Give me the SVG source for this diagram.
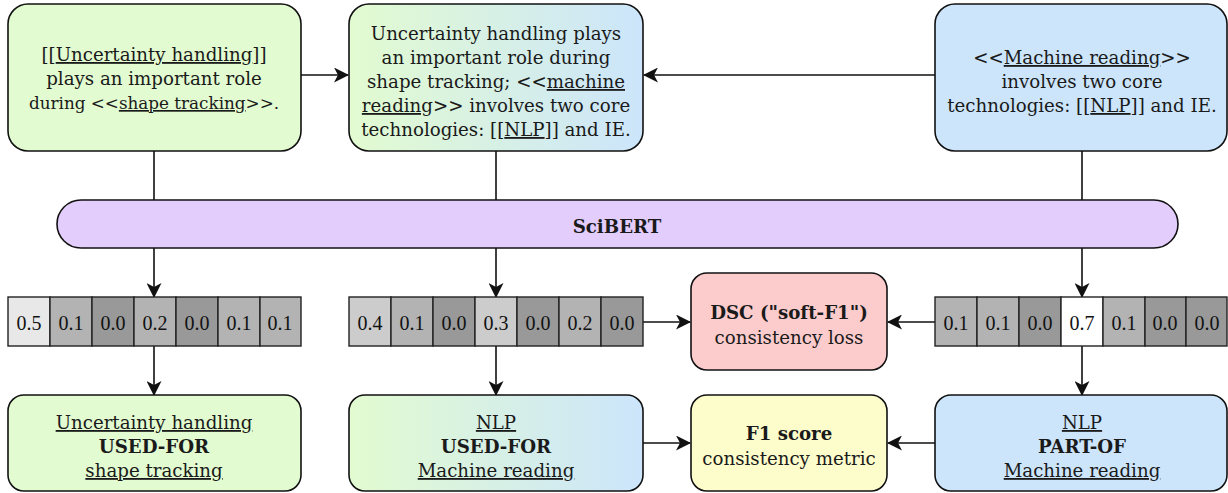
<svg xmlns="http://www.w3.org/2000/svg" width="1228" height="493" viewBox="0 0 1228 493">
<style>
.box{stroke:#111;stroke-width:1.6}
.g{fill:#e2fbd0}
.b{fill:#cce5fb}
.t{font-family:"DejaVu Serif","Liberation Serif",serif;font-size:18.2px;fill:#1a1a1a;text-anchor:middle}
.sm{font-size:16.8px}
.bd{font-weight:bold}
.u{text-decoration:underline}
.ln{stroke:#111;stroke-width:1.6;fill:none}
.c{stroke:#222;stroke-width:1.4}
.n{font-family:"Liberation Serif","DejaVu Serif",serif;font-size:20px;fill:#111;text-anchor:middle}
</style>
<defs>
<linearGradient id="gb" x1="0" y1="0" x2="1" y2="0">
<stop offset="0" stop-color="#e2fbd0"/>
<stop offset="1" stop-color="#cce5fb"/>
</linearGradient>
<marker id="ah" markerUnits="userSpaceOnUse" markerWidth="15" markerHeight="15" viewBox="0 0 15 15" refX="14" refY="7.5" orient="auto">
<path d="M0,0 L15,7.5 L0,15 L4,7.5 z" fill="#111"/>
</marker>
</defs>

<g id="connectors">
<line class="ln" x1="301" y1="75" x2="348" y2="75" marker-end="url(#ah)"/>
<line class="ln" x1="935" y1="75" x2="644" y2="75" marker-end="url(#ah)"/>
<line class="ln" x1="154" y1="151" x2="154" y2="200"/>
<line class="ln" x1="496" y1="151" x2="496" y2="200"/>
<line class="ln" x1="1082" y1="151" x2="1082" y2="200"/>
<line class="ln" x1="154" y1="248" x2="154" y2="297" marker-end="url(#ah)"/>
<line class="ln" x1="496" y1="248" x2="496" y2="297" marker-end="url(#ah)"/>
<line class="ln" x1="1082" y1="248" x2="1082" y2="297" marker-end="url(#ah)"/>
<line class="ln" x1="154" y1="346" x2="154" y2="395" marker-end="url(#ah)"/>
<line class="ln" x1="496" y1="346" x2="496" y2="395" marker-end="url(#ah)"/>
<line class="ln" x1="1082" y1="346" x2="1082" y2="395" marker-end="url(#ah)"/>
<line class="ln" x1="643" y1="322" x2="690" y2="322" marker-end="url(#ah)"/>
<line class="ln" x1="935" y1="322" x2="888" y2="322" marker-end="url(#ah)"/>
<line class="ln" x1="643" y1="443" x2="690" y2="443" marker-end="url(#ah)"/>
<line class="ln" x1="935" y1="443" x2="888" y2="443" marker-end="url(#ah)"/>
</g>

<g id="input1">
<rect class="box g" x="8" y="4" width="293" height="147" rx="20"/>
<text class="t" x="154" y="61">[[<tspan class="u">Uncertainty handling</tspan>]]</text>
<text class="t" x="154" y="85">plays an important role</text>
<text class="t sm" x="154" y="109">during &lt;&lt;<tspan class="u">shape tracking</tspan>&gt;&gt;.</text>
</g>

<g id="input-combined">
<rect class="box" fill="url(#gb)" x="349" y="4" width="294" height="147" rx="20"/>
<text class="t" x="496" y="40">Uncertainty handling plays</text>
<text class="t" x="496" y="64">an important role during</text>
<text class="t" x="496" y="88">shape tracking; &lt;&lt;<tspan class="u">machine</tspan></text>
<text class="t" x="496" y="112"><tspan class="u">reading</tspan>&gt;&gt; involves two core</text>
<text class="t" x="496" y="136">technologies: [[<tspan class="u">NLP</tspan>]] and IE.</text>
</g>

<g id="input2">
<rect class="box b" x="935" y="4" width="292" height="147" rx="20"/>
<text class="t" x="1082" y="64">&lt;&lt;<tspan class="u">Machine reading</tspan>&gt;&gt;</text>
<text class="t" x="1082" y="88">involves two core</text>
<text class="t" x="1082" y="112">technologies: [[<tspan class="u">NLP</tspan>]] and IE.</text>
</g>

<g id="scibert">
<rect class="box" fill="#e3cdfc" x="57" y="200" width="1121" height="48" rx="24"/>
<text class="t bd" x="617" y="233">SciBERT</text>
</g>

<g id="vec1">
<rect class="c" fill="#e8e8e8" x="8" y="297" width="42" height="49"/>
<rect class="c" fill="#b3b3b3" x="50" y="297" width="42" height="49"/>
<rect class="c" fill="#999999" x="92" y="297" width="42" height="49"/>
<rect class="c" fill="#b3b3b3" x="134" y="297" width="42" height="49"/>
<rect class="c" fill="#999999" x="176" y="297" width="42" height="49"/>
<rect class="c" fill="#b3b3b3" x="218" y="297" width="42" height="49"/>
<rect class="c" fill="#b3b3b3" x="260" y="297" width="41" height="49"/>
<text class="n" x="29" y="330">0.5</text>
<text class="n" x="71" y="330">0.1</text>
<text class="n" x="113" y="330">0.0</text>
<text class="n" x="155" y="330">0.2</text>
<text class="n" x="197" y="330">0.0</text>
<text class="n" x="239" y="330">0.1</text>
<text class="n" x="280" y="330">0.1</text>
</g>

<g id="vec2">
<rect class="c" fill="#cccccc" x="349" y="297" width="42" height="49"/>
<rect class="c" fill="#b3b3b3" x="391" y="297" width="42" height="49"/>
<rect class="c" fill="#999999" x="433" y="297" width="42" height="49"/>
<rect class="c" fill="#cccccc" x="475" y="297" width="42" height="49"/>
<rect class="c" fill="#999999" x="517" y="297" width="42" height="49"/>
<rect class="c" fill="#b3b3b3" x="559" y="297" width="42" height="49"/>
<rect class="c" fill="#999999" x="601" y="297" width="42" height="49"/>
<text class="n" x="370" y="330">0.4</text>
<text class="n" x="412" y="330">0.1</text>
<text class="n" x="454" y="330">0.0</text>
<text class="n" x="496" y="330">0.3</text>
<text class="n" x="538" y="330">0.0</text>
<text class="n" x="580" y="330">0.2</text>
<text class="n" x="622" y="330">0.0</text>
</g>

<g id="vec3">
<rect class="c" fill="#b3b3b3" x="935" y="297" width="42" height="49"/>
<rect class="c" fill="#b3b3b3" x="977" y="297" width="42" height="49"/>
<rect class="c" fill="#999999" x="1019" y="297" width="42" height="49"/>
<rect class="c" fill="#ffffff" x="1061" y="297" width="42" height="49"/>
<rect class="c" fill="#b3b3b3" x="1103" y="297" width="42" height="49"/>
<rect class="c" fill="#999999" x="1145" y="297" width="41" height="49"/>
<rect class="c" fill="#999999" x="1186" y="297" width="41" height="49"/>
<text class="n" x="956" y="330">0.1</text>
<text class="n" x="998" y="330">0.1</text>
<text class="n" x="1040" y="330">0.0</text>
<text class="n" x="1082" y="330">0.7</text>
<text class="n" x="1124" y="330">0.1</text>
<text class="n" x="1165" y="330">0.0</text>
<text class="n" x="1207" y="330">0.0</text>
</g>

<g id="dsc">
<rect class="box" fill="#fccccc" x="691" y="273" width="196" height="97" rx="16"/>
<text class="t bd" x="789" y="319">DSC ("soft-F1")</text>
<text class="t" x="789" y="344">consistency loss</text>
</g>

<g id="out1">
<rect class="box g" x="8" y="395" width="293" height="96" rx="16"/>
<text class="t u" x="154" y="429">Uncertainty handling</text>
<text class="t bd" x="154" y="453">USED-FOR</text>
<text class="t u" x="154" y="477">shape tracking</text>
</g>

<g id="out-combined">
<rect class="box" fill="url(#gb)" x="349" y="395" width="294" height="96" rx="16"/>
<text class="t u" x="496" y="429">NLP</text>
<text class="t bd" x="496" y="453">USED-FOR</text>
<text class="t u" x="496" y="477">Machine reading</text>
</g>

<g id="f1">
<rect class="box" fill="#fdfdcc" x="691" y="395" width="196" height="96" rx="16"/>
<text class="t bd" x="789" y="440">F1 score</text>
<text class="t" x="789" y="465">consistency metric</text>
</g>

<g id="out2">
<rect class="box b" x="935" y="395" width="292" height="96" rx="16"/>
<text class="t u" x="1082" y="429">NLP</text>
<text class="t bd" x="1082" y="453">PART-OF</text>
<text class="t u" x="1082" y="477">Machine reading</text>
</g>
</svg>
